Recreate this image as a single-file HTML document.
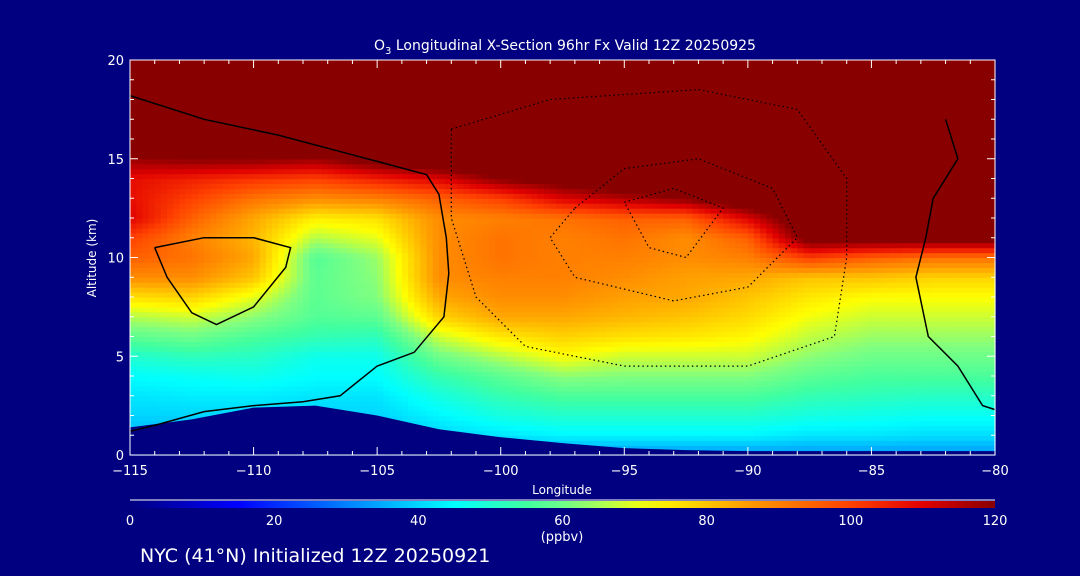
<!DOCTYPE html>
<html><head><meta charset="utf-8"><style>
body{margin:0;background:#000080;}
svg{display:block;font-family:"DejaVu Sans","Liberation Sans",sans-serif;}
</style></head><body>
<svg id="chart" width="1080" height="576" viewBox="0 0 1080 576">
<rect width="1080" height="576" fill="#000080"/>
<g id="heat"></g>
<polygon id="ter" fill="#000080"/>
<g id="cont"></g>
<g id="axes"></g>
<text x="565" y="50" fill="#fff" font-size="14" text-anchor="middle">O<tspan font-size="10" dy="4">3</tspan><tspan dy="-4"> Longitudinal X-Section 96hr  Fx Valid 12Z 20250925</tspan></text>
<text x="96" y="258" fill="#fff" font-size="12" text-anchor="middle" transform="rotate(-90 96 258)">Altitude (km)</text>
<text x="562" y="494" fill="#fff" font-size="12" text-anchor="middle">Longitude</text>
<defs><linearGradient id="cb" x1="0" x2="1" y1="0" y2="0"></linearGradient></defs>
<line x1="130" x2="995" y1="500" y2="500" stroke="#fff"/>
<rect x="130" y="501" width="865" height="7" fill="url(#cb)"/>
<g id="cbl"></g>
<text x="562" y="541" fill="#fff" font-size="13" text-anchor="middle">(ppbv)</text>
<text x="140" y="562" fill="#fff" font-size="19">NYC (41°N) Initialized 12Z 20250921</text>
</svg>
<script>
const lons=[-115,-112.5,-110,-107.5,-105,-102.5,-100,-97.5,-95,-92.5,-90,-87.5,-85,-82.5,-80];
const alts=[0,1,2,3,4,5,6,7,8,9,10,11,12,13,14,15,16,20];
const ozone=[
[32,36,40,42,45,50,58,66,76,88,95,100,110,108,108,118,130,130],
[32,36,40,43,46,52,60,68,78,88,92,90,95,100,105,120,130,130],
[32,36,40,43,47,51,56,63,70,80,84,82,84,92,102,120,130,130],
[32,36,40,42,45,47,53,57,58,58,57,66,74,88,100,118,130,130],
[32,36,40,42,45,47,52,58,62,63,64,70,76,90,105,125,130,130],
[32,40,44,48,53,60,68,78,84,88,88,88,88,95,110,130,130,130],
[32,42,48,53,58,66,75,84,88,90,92,92,90,100,120,130,130,130],
[32,44,50,56,63,72,78,84,88,90,90,90,92,110,125,130,130,130],
[32,44,50,56,62,68,76,82,85,88,90,92,95,115,130,130,130,130],
[32,44,50,56,62,68,75,80,84,85,88,88,95,120,130,130,130,130],
[32,44,50,56,62,68,73,77,80,84,90,95,110,130,130,130,130,130],
[32,42,48,53,58,63,67,71,75,80,100,125,130,130,130,130,130,130],
[32,42,47,52,56,60,64,68,72,80,95,125,130,130,130,130,130,130],
[32,41,46,51,56,60,64,68,72,78,92,125,130,130,130,130,130,130],
[32,41,46,51,56,60,64,68,72,78,92,125,130,130,130,130,130,130]];
const terrain=[1.4,1.8,2.4,2.5,2.0,1.3,0.9,0.6,0.35,0.25,0.2,0.2,0.2,0.2,0.2];
const xTicks=[-115,-110,-105,-100,-95,-90,-85,-80];
const yTicks=[0,5,10,15,20];
const cbTicks=[0,20,40,60,80,100,120];
const contourSolid=[
[[-115,18.2],[-112,17.0],[-109,16.2],[-106,15.2],[-103,14.2],[-102.5,13.2],[-102.2,11],[-102.1,9.2],[-102.3,7],[-103.5,5.2],[-105,4.5],[-106.5,3.0],[-108,2.7],[-110,2.5],[-112,2.2],[-114,1.5],[-115,1.2]],
[[-114,10.5],[-113.5,9],[-112.5,7.2],[-111.5,6.6],[-110,7.5],[-108.7,9.5],[-108.5,10.5],[-110,11],[-112,11],[-114,10.5]],
[[-82,17],[-81.5,15],[-82.5,13],[-82.8,11],[-83.2,9],[-82.7,6],[-81.5,4.5],[-80.5,2.5],[-80,2.3]]];
const contourDotted=[
[[-102,16.5],[-98,18],[-92,18.5],[-88,17.5],[-86,14],[-86,10],[-86.5,6],[-90,4.5],[-95,4.5],[-99,5.5],[-101,8],[-102,12],[-102,16.5]],
[[-97,12.5],[-95,14.5],[-92,15],[-89,13.5],[-88,11],[-90,8.5],[-93,7.8],[-97,9],[-98,11],[-97,12.5]],
[[-95,12.8],[-93,13.5],[-91,12.5],[-92.5,10],[-94,10.5],[-95,12.8]]];

const X0=130,X1=995,Y0=455,Y1=60;
const sx=l=>X0+(l+115)/35*(X1-X0), sy=a=>Y0-a/20*(Y0-Y1);
const NS="http://www.w3.org/2000/svg";
const stops=[[0,[0,0,128]],[15,[0,0,255]],[30,[0,128,255]],[45,[0,255,255]],[55,[64,255,160]],[62,[128,255,128]],[72,[255,255,0]],[85,[255,160,0]],[100,[255,64,0]],[110,[224,0,0]],[120,[136,0,0]]];
function col(v){if(v>=120)return"rgb(136,0,0)";if(v<=0)return"rgb(0,0,128)";
for(let i=1;i<stops.length;i++){if(v<=stops[i][0]){const a=stops[i-1],b=stops[i],t=(v-a[0])/(b[0]-a[0]);
return"rgb("+a[1].map((c,k)=>Math.round(c+(b[1][k]-c)*t)).join(",")+")";}}}
function interp(xs,x){for(let i=1;i<xs.length;i++)if(x<=xs[i]){const t=(x-xs[i-1])/(xs[i]-xs[i-1]);return [i-1,t];}return [xs.length-2,1];}
const heat=document.getElementById('heat');
const dl=0.25,da=0.25;
for(let l=-115;l<-80;l+=dl){for(let a=0;a<20;a+=da){
 const lc=l+dl/2,ac=a+da/2;
 const [i,t]=interp(lons,lc);const [j,u]=interp(alts,ac);
 const v=(1-t)*((1-u)*ozone[i][j]+u*ozone[i][j+1])+t*((1-u)*ozone[i+1][j]+u*ozone[i+1][j+1]);
 const r=document.createElementNS(NS,'rect');
 r.setAttribute('x',sx(l).toFixed(2));r.setAttribute('y',sy(a+da).toFixed(2));
 r.setAttribute('width',(sx(l+dl)-sx(l)+0.6).toFixed(2));r.setAttribute('height',(sy(a)-sy(a+da)+0.6).toFixed(2));
 r.setAttribute('fill',col(v));
 
 
 heat.appendChild(r);}}
document.getElementById('ter').setAttribute('points',
 [sx(-115)+","+sy(0)].concat(lons.map((l,k)=>sx(l).toFixed(1)+","+sy(terrain[k]).toFixed(1))).concat([sx(-80)+","+sy(0)]).join(" "));
const cont=document.getElementById('cont');
function poly(pts,dash){const p=document.createElementNS(NS,'polyline');
 p.setAttribute('points',pts.map(q=>sx(q[0]).toFixed(1)+","+sy(q[1]).toFixed(1)).join(" "));
 p.setAttribute('fill','none');p.setAttribute('stroke','#000');p.setAttribute('stroke-width',dash?1.2:1.5);
 if(dash)p.setAttribute('stroke-dasharray','1.5 3');
 
 
 cont.appendChild(p);}
contourSolid.forEach(c=>poly(c,false));contourDotted.forEach(c=>poly(c,true));
const ax=document.getElementById('axes');
function ln(x1,y1,x2,y2,name){const e=document.createElementNS(NS,'line');
 e.setAttribute('x1',x1);e.setAttribute('y1',y1);e.setAttribute('x2',x2);e.setAttribute('y2',y2);e.setAttribute('stroke','#fff');
 
 
 ax.appendChild(e);}
function tx(x,y,s,anchor,size,name,parent){const e=document.createElementNS(NS,'text');
 e.setAttribute('x',x);e.setAttribute('y',y);e.setAttribute('fill','#fff');e.setAttribute('font-size',size);e.setAttribute('text-anchor',anchor);e.textContent=s;
 
 
 (parent||ax).appendChild(e);}
const fr=document.createElementNS(NS,'rect');
fr.setAttribute('x',X0);fr.setAttribute('y',Y1);fr.setAttribute('width',X1-X0);fr.setAttribute('height',Y0-Y1);fr.setAttribute('fill','none');fr.setAttribute('stroke','#fff');


ax.appendChild(fr);
for(let l=-115;l<=-80;l++){const big=xTicks.includes(l),h=big?8:4,x=sx(l);
 ln(x,Y0,x,Y0-h,'x-tick');ln(x,Y1,x,Y1+h,'x-tick-top');}
xTicks.forEach(l=>tx(sx(l),475,(l<0?"\u2212":"")+Math.abs(l),'middle',13,'x-tick-label'));
for(let a=0;a<=20;a++){const big=yTicks.includes(a),h=big?8:4,y=sy(a);
 ln(X0,y,X0+h,y,'y-tick');ln(X1,y,X1-h,y,'y-tick-right');}
yTicks.forEach(a=>tx(124,sy(a)+5,String(a),'end',13,'y-tick-label'));
const g=document.getElementById('cb');
for(let v=0;v<=120;v+=5){const s=document.createElementNS(NS,'stop');s.setAttribute('offset',v/120);s.setAttribute('stop-color',col(v));g.appendChild(s);}
const cbl=document.getElementById('cbl');
cbTicks.forEach(v=>tx(130+v/120*865,525,String(v),'middle',13,'colorbar-tick-label',cbl));
</script>
</body></html>
